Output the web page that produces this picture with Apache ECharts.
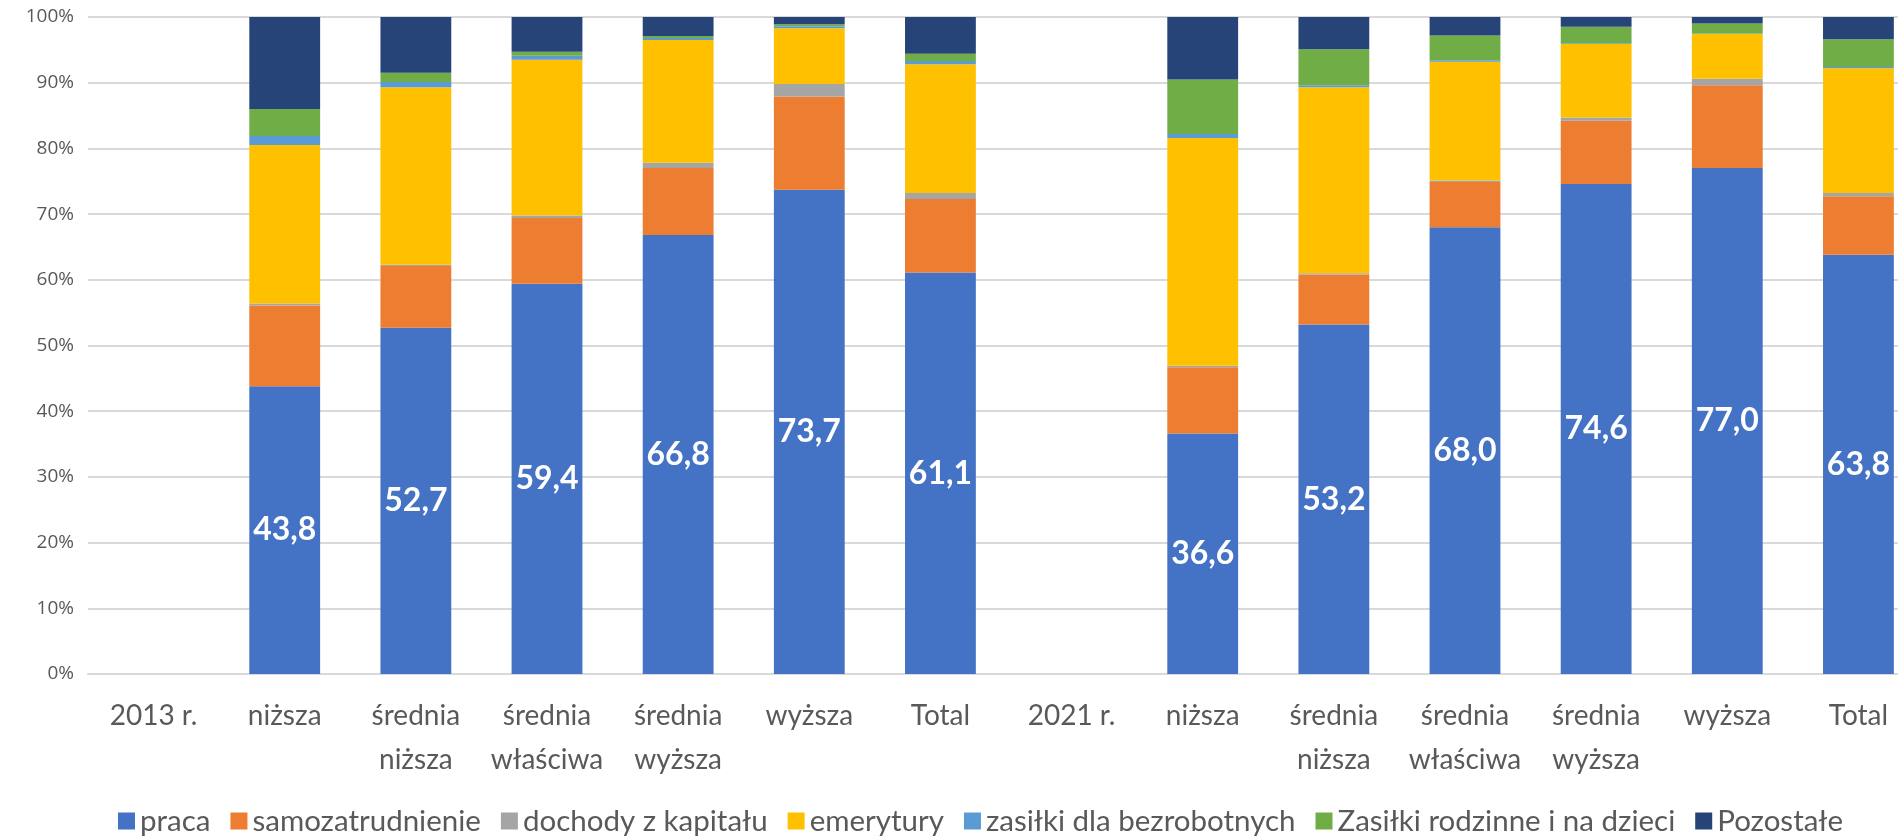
<!DOCTYPE html>
<html>
<head>
<meta charset="utf-8">
<script src="https://cdn.jsdelivr.net/npm/echarts@6/dist/echarts.min.js"></script>
<style>
  html, body { margin: 0; padding: 0; background: #fff; }
  #main { width: 1898px; height: 836px; }
</style>
</head>
<body>
<div id="main"></div>
<script>
var categories = ['2013 r.', 'niższa', 'średnia\nniższa', 'średnia\nwłaściwa', 'średnia\nwyższa', 'wyższa', 'Total',
                  '2021 r.', 'niższa', 'średnia\nniższa', 'średnia\nwłaściwa', 'średnia\nwyższa', 'wyższa', 'Total'];

var praca      = [null, 43.8, 52.7, 59.4, 66.8, 73.7, 61.1, null, 36.6, 53.2, 68.0, 74.6, 77.0, 63.8];
var samozatr   = [null, 12.3,  9.4, 10.0, 10.2, 14.2, 11.2, null, 10.1,  7.6,  6.9,  9.6, 12.6,  8.9];
var kapital    = [null,  0.3,  0.2,  0.4,  0.8,  1.9,  0.9, null,  0.2,  0.2,  0.2,  0.5,  1.0,  0.5];
var emerytury  = [null, 24.1, 27.0, 23.7, 18.7,  8.5, 19.6, null, 34.7, 28.3, 18.1, 11.2,  6.8, 19.0];
var bezrobotni = [null,  1.4,  0.8,  0.6,  0.3,  0.3,  0.5, null,  0.6,  0.3,  0.2,  0.1,  0.1,  0.2];
var rodzinne   = [null,  4.1,  1.4,  0.6,  0.3,  0.3,  1.1, null,  8.3,  5.5,  3.8,  2.5,  1.5,  4.2];
var pozostale  = [null, 14.0,  8.5,  5.3,  2.9,  1.1,  5.6, null,  9.5,  4.9,  2.8,  1.5,  1.0,  3.4];

var yTicks = [0, 10, 20, 30, 40, 50, 60, 70, 80, 90, 100];

var seriesDefs = [
    { name: 'praca', data: praca, color: '#4472C4' },
    { name: 'samozatrudnienie', data: samozatr, color: '#ED7D31' },
    { name: 'dochody z kapitału', data: kapital, color: '#A5A5A5' },
    { name: 'emerytury', data: emerytury, color: '#FFC000' },
    { name: 'zasiłki dla bezrobotnych', data: bezrobotni, color: '#5B9BD5' },
    { name: 'Zasiłki rodzinne i na dzieci', data: rodzinne, color: '#70AD47' },
    { name: 'Pozostałe', data: pozostale, color: '#264478' }
];

var series = [];
for (var i = 0; i < seriesDefs.length; i++) {
    var s = {
        name: seriesDefs[i].name,
        type: 'bar',
        stack: 'total',
        barWidth: '54%',
        data: seriesDefs[i].data,
        itemStyle: { color: seriesDefs[i].color },
        emphasis: { disabled: true }
    };
    if (i === 0) {
        s.label = {
            show: true,
            position: 'inside',
            color: '#fff',
            fontFamily: 'Lato',
            fontWeight: 'bold',
            fontSize: 32,
            formatter: function (p) {
                return p.value == null ? '' : p.value.toFixed(1).replace('.', ',');
            }
        };
    }
    series.push(s);
}

var myChart = echarts.init(document.getElementById('main'));
var option = {
    animation: false,
    color: seriesDefs.map(function (d) { return d.color; }),
    // the plot runs a little past the right edge, as in the source picture
    grid: { left: 88, top: 17, width: 1836, height: 657, containLabel: false, outerBoundsMode: 'none' },
    legend: {
        top: 801,
        left: 113,
        itemWidth: 17,
        itemHeight: 17,
        itemGap: 20,
        icon: 'rect',
        textStyle: { fontFamily: 'Lato', fontSize: 29.5, color: '#595959' },
        data: seriesDefs.map(function (d) { return d.name; })
    },
    xAxis: {
        type: 'category',
        data: categories,
        axisLine: { lineStyle: { color: '#d9d9d9', width: 2 } },
        axisTick: { show: false },
        axisLabel: {
            interval: 0,
            color: '#595959',
            fontFamily: 'Lato',
            fontSize: 28,
            lineHeight: 44,
            margin: 20
        }
    },
    yAxis: {
        type: 'value',
        min: 0,
        max: 100,
        interval: 10,
        axisLine: { show: false },
        axisTick: { show: false },
        splitLine: { lineStyle: { color: '#d9d9d9', width: 2 } },
        axisLabel: {
            color: '#595959',
            fontFamily: 'Open Sans',
            fontSize: 19,
            margin: 14,
            formatter: function (v) { return yTicks.indexOf(v) >= 0 ? v + '%' : ''; }
        }
    },
    series: series
};
myChart.setOption(option);
</script>
</body>
</html>
